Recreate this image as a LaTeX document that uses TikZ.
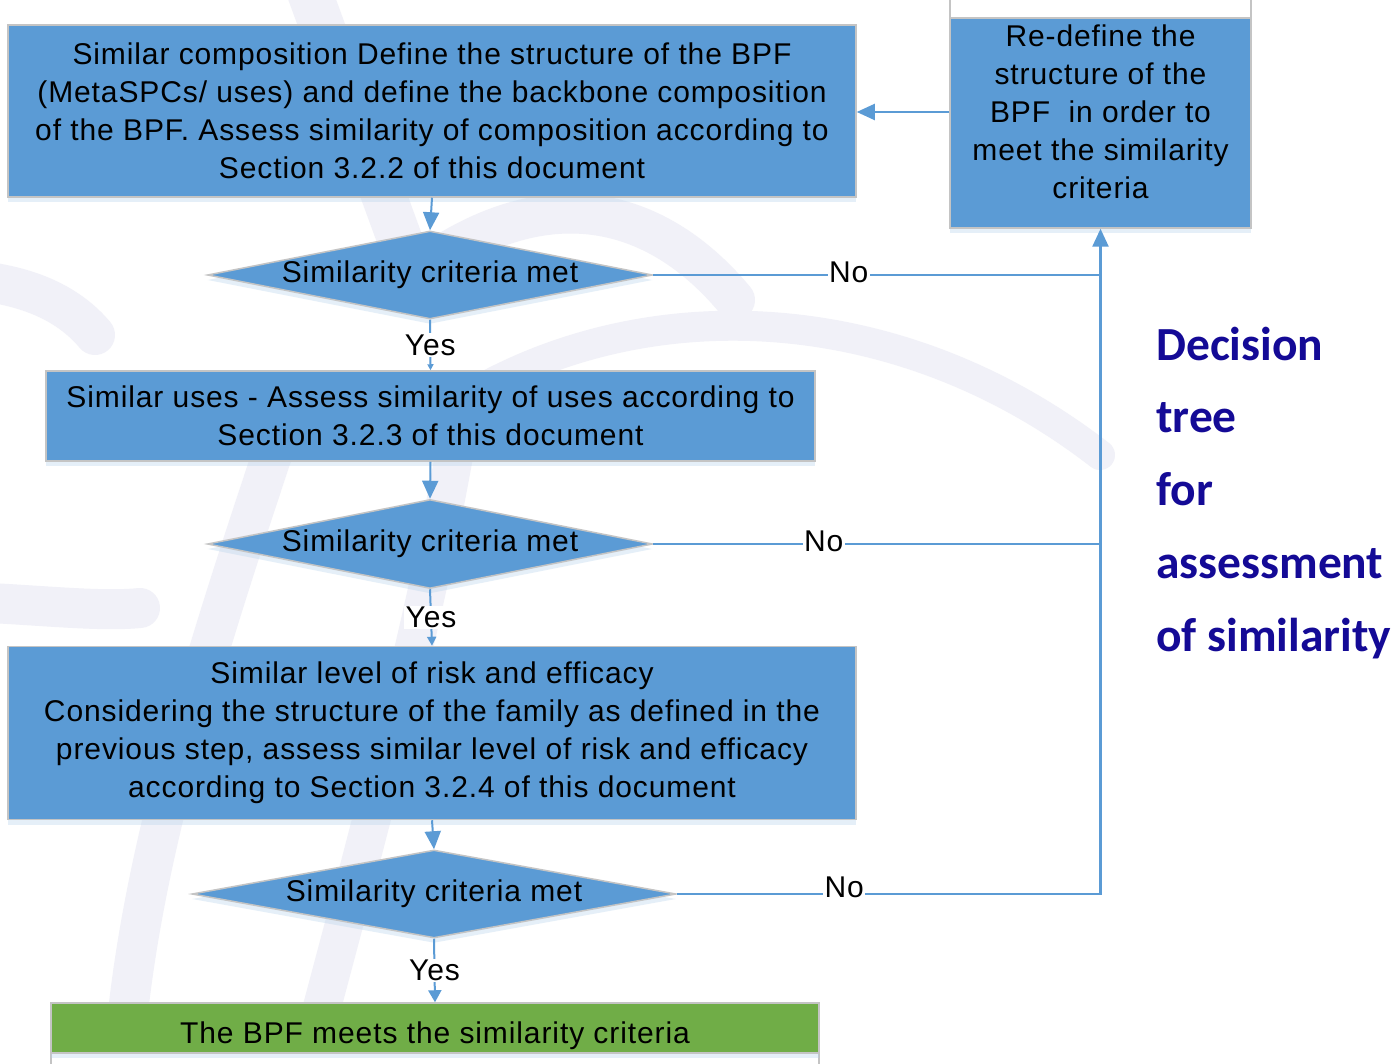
\documentclass[tikz,border=0pt]{standalone}
\usepackage{fontspec}
\setmainfont{Liberation Sans}[LetterSpace=3]
\newfontfamily\carl{Carlito}
\usetikzlibrary{shapes.geometric,arrows.meta,shadows}
\definecolor{boxblue}{HTML}{5B9BD5}
\definecolor{boxgreen}{HTML}{70AD47}
\definecolor{edgegray}{HTML}{C4C4C4}
\definecolor{wm}{HTML}{F1F1F8}
\definecolor{navyblue}{RGB}{20,10,150}
\begin{document}
\begin{tikzpicture}[x=1pt,y=-1pt,
  shad/.style={drop shadow={shadow xshift=0pt,shadow yshift=-5pt,opacity=0.35,fill=boxblue!45}},
  box/.style={draw=edgegray,line width=1.5pt,fill=boxblue,inner sep=0pt,align=center,
    font=\fontsize{30}{38}\selectfont,shad},
  dec/.style={diamond,draw=edgegray,line width=1.5pt,fill=boxblue,inner sep=0pt,aspect=5,
    font=\fontsize{30}{38}\selectfont,shad},
  conn/.style={draw=boxblue,line width=2pt},
  bigtip/.style={-{Triangle[length=18pt,width=16pt]}},
  lbl/.style={fill=white,inner sep=1.5pt,font=\fontsize{30}{36}\selectfont},
  sidetxt/.style={anchor=base west,text=navyblue,inner sep=0pt,font=\carl\bfseries\fontsize{47.5}{47.5}\selectfont}
]
\useasboundingbox (0,0) rectangle (1397,1064);
\clip (0,0) rectangle (1397,1064);
\fill[white] (0,0) rectangle (1397,1064);

% faint watermark
\begin{scope}[draw=wm,line cap=round]
  \draw[line width=45pt] (305,-20) -- (400,240);
  \draw[line width=40pt] (-30,280) .. controls (30,285) and (70,305) .. (95,335);
  \draw[line width=30pt] (470,395) .. controls (650,290) and (900,300) .. (1100,455);
  \draw[line width=40pt] (450,250) .. controls (560,185) and (660,210) .. (735,300);
  \draw[line width=40pt] (-30,602) .. controls (40,605) and (100,612) .. (140,608);
  \draw[line width=40pt] (272,455) .. controls (190,700) and (130,900) .. (122,1090);
  \draw[line width=38pt] (455,450) .. controls (420,650) and (350,900) .. (300,1090);
\end{scope}

% white box above the re-define box (cut by the top edge)
\draw[edgegray,line width=1.5pt,fill=white] (950,-20) rectangle (1251,18);
% white box below the green one (cut by the bottom edge)
\draw[edgegray,line width=1.5pt,fill=white] (51,1053) rectangle (819,1100);

\node[box,minimum width=848pt,minimum height=172pt] (b1) at (432,111)
  {Similar composition Define the structure of the BPF\\
   (MetaSPCs/ uses) and define the backbone composition\\
   of the BPF. Assess similarity of composition according to\\
   Section 3.2.2 of this document};
\node[box,minimum width=301pt,minimum height=210pt,text depth=22pt] (rd) at (1100.5,123)
  {Re-define the\\ structure of the\\ BPF \ in order to\\ meet the similarity\\ criteria};
\node[dec,minimum width=445pt,minimum height=88pt] (d1) at (430,275) {Similarity criteria met};
\node[box,minimum width=769pt,minimum height=90pt] (b2) at (430.5,416)
  {Similar uses - Assess similarity of uses according to\\ Section 3.2.3 of this document};
\node[dec,minimum width=445pt,minimum height=89pt] (d2) at (430,544) {Similarity criteria met};
\node[box,minimum width=848pt,minimum height=173pt] (b3) at (432,733)
  {Similar level of risk and efficacy\\
   Considering the structure of the family as defined in the\\
   previous step, assess similar level of risk and efficacy\\
   according to Section 3.2.4 of this document};
\node[dec,minimum width=484pt,minimum height=88pt] (d3) at (434,894) {Similarity criteria met};
\node[box,fill=boxgreen,minimum width=768pt,minimum height=50pt,text height=37pt,drop shadow={opacity=0}] (g) at (435,1028)
  {The BPF meets the similarity criteria};

% connectors
\draw[conn,bigtip] (b1.south) -- (d1.north);
\draw[conn,bigtip] (b2.south) -- (d2.north);
\draw[conn,bigtip] (b3.south) -- (d3.north);
\draw[conn,-{Triangle[length=6pt,width=6pt]}] (d1.south) -- node[lbl]{Yes} (b2.north);
\draw[conn,-{Triangle[length=9pt,width=9pt]}] (d2.south) -- node[lbl]{Yes} (b3.north);
\draw[conn,-{Triangle[length=12pt,width=13pt]}] (d3.south) -- node[lbl]{Yes} (g.north);

\coordinate (ra) at ([yshift=11pt]rd.west);
\draw[conn,bigtip] (ra) -- (ra -| b1.east);

\draw[conn] (d1.east) -- node[lbl,pos=0.437,yshift=3pt]{No} (d1.east -| rd.south);
\draw[conn] (d2.east) -- node[lbl,pos=0.381,yshift=3pt]{No} (d2.east -| rd.south);
\draw[conn,line width=2.5pt,bigtip] (d3.east) -- node[lbl,pos=0.395,yshift=7pt]{No} (d3.east -| rd.south) -- (rd.south);

% side title
\node[sidetxt] (t1) at (1156,360) {Decision};
\node[sidetxt] (t2) at (1156,432) {tree};
\node[sidetxt] (t3) at (1156,505) {for};
\node[sidetxt] (t4) at (1156,578) {assessment};
\node[sidetxt] (t5) at (1156,651) {of similarity};
\end{tikzpicture}
\end{document}
